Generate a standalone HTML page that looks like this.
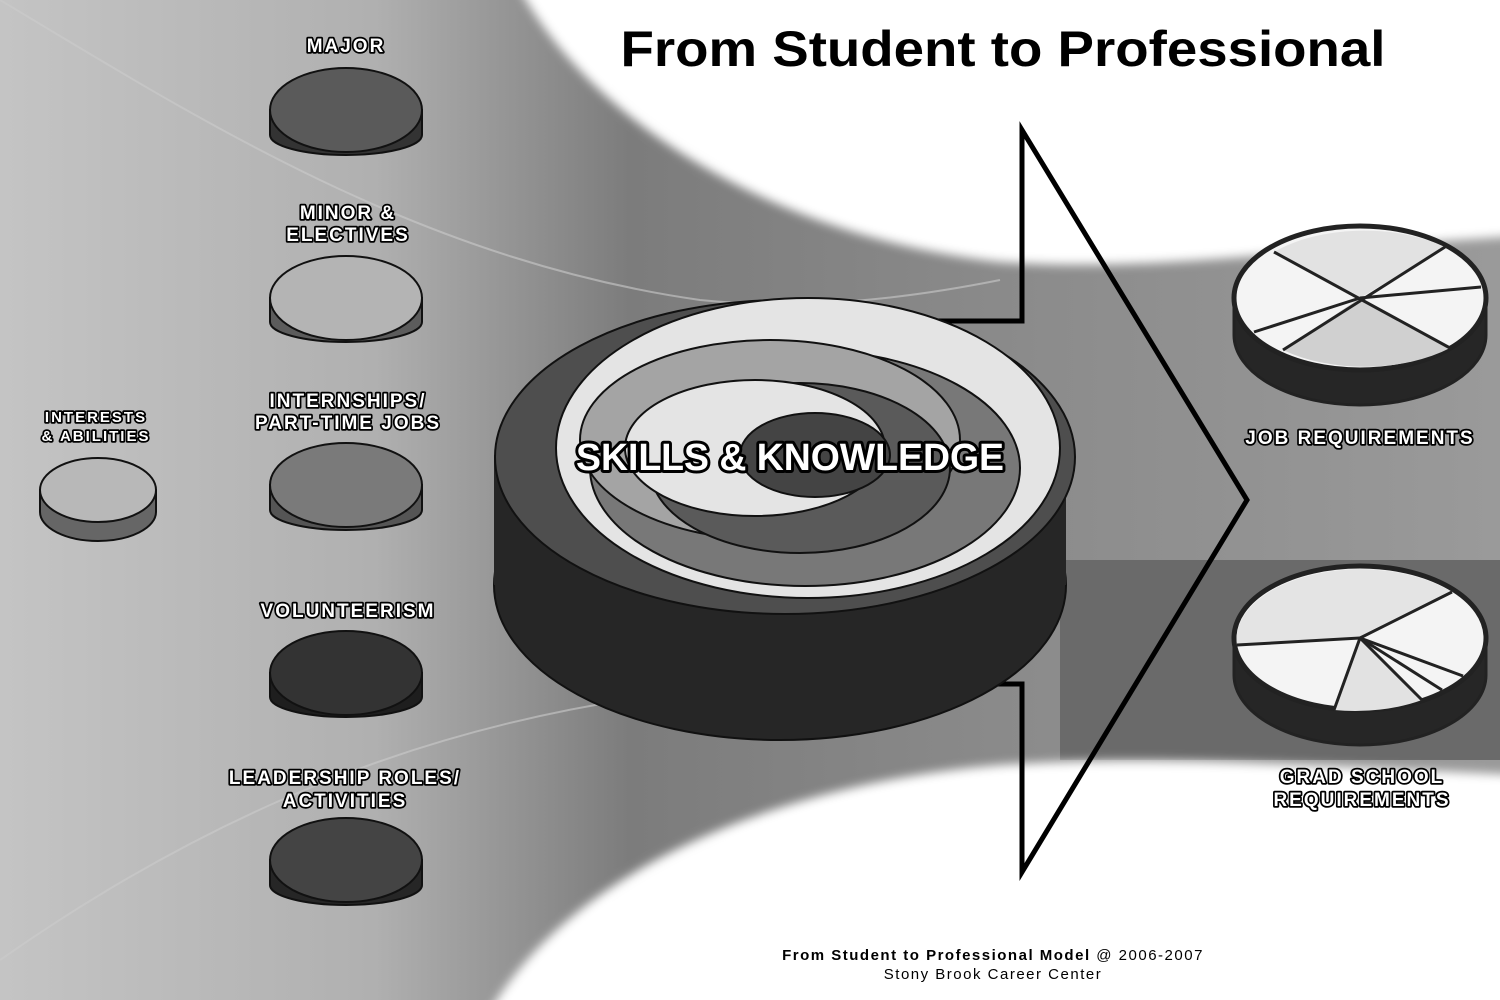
<!DOCTYPE html>
<html><head><style>
html,body{margin:0;padding:0;width:1500px;height:1000px;overflow:hidden;background:#999}
svg{display:block}
.lbl{font-family:"Liberation Sans Narrow","Liberation Sans",sans-serif;font-weight:bold;fill:#fff;stroke:#000;stroke-width:3.5px;paint-order:stroke;stroke-linejoin:round;text-anchor:middle}
</style></head><body>
<svg width="1500" height="1000" viewBox="0 0 1500 1000" xmlns="http://www.w3.org/2000/svg">
<defs>
<linearGradient id="bg" x1="0" x2="1" y1="0" y2="0">
<stop offset="0" stop-color="#c4c4c4"/><stop offset="0.25" stop-color="#b0b0b0"/><stop offset="0.42" stop-color="#7c7c7c"/><stop offset="0.7" stop-color="#8c8c8c"/><stop offset="1" stop-color="#9a9a9a"/>
</linearGradient>
<filter id="bl" x="-20%" y="-20%" width="140%" height="140%"><feGaussianBlur stdDeviation="5"/></filter>
</defs>
<rect width="1500" height="1000" fill="url(#bg)"/>
<rect x="1060" y="560" width="440" height="200" fill="#6a6a6a"/>
<path d="M0,0 C200,120 420,260 700,300 C800,310 900,300 1000,280" fill="none" stroke="#ccc" stroke-width="2" opacity="0.6"/>
<path d="M0,960 C200,820 420,720 700,690" fill="none" stroke="#ccc" stroke-width="2" opacity="0.6"/>
<path d="M515,-20 C580,110 760,235 1000,262 C1150,272 1260,252 1520,236 L1520,-20 Z" fill="#fff" filter="url(#bl)"/>
<path d="M485,1020 C560,880 760,785 1000,765 C1150,755 1300,765 1520,775 L1520,1020 Z" fill="#fff" filter="url(#bl)"/>

<text x="1003" y="66" font-family="Liberation Sans,sans-serif" font-weight="bold" font-size="50" textLength="765" lengthAdjust="spacingAndGlyphs" text-anchor="middle" fill="#000">From Student to Professional</text>

<!-- arrow -->
<polygon points="900,321 1022,321 1022,130 1247,500 1022,872 1022,684 900,684" fill="none" stroke="#000" stroke-width="5" stroke-linejoin="miter"/>

<!-- big disc -->
<ellipse cx="780" cy="585" rx="286" ry="155" fill="#262626" stroke="#111" stroke-width="2"/>
<rect x="494" y="455" width="572" height="130" fill="#262626"/>
<ellipse cx="785" cy="457" rx="290" ry="157" fill="#4e4e4e" stroke="#111" stroke-width="2"/>
<ellipse cx="808" cy="448" rx="252" ry="150" fill="#e4e4e4" stroke="#111" stroke-width="2"/>
<ellipse cx="805" cy="468" rx="215" ry="118" fill="#787878" stroke="#111" stroke-width="2"/>
<ellipse cx="770" cy="440" rx="190" ry="100" fill="#a4a4a4" stroke="#111" stroke-width="2"/>
<ellipse cx="800" cy="468" rx="150" ry="85" fill="#5a5a5a" stroke="#111" stroke-width="2"/>
<ellipse cx="755" cy="448" rx="130" ry="68" fill="#e4e4e4" stroke="#111" stroke-width="2"/>
<ellipse cx="815" cy="455" rx="75" ry="42" fill="#444" stroke="#111" stroke-width="2"/>
<text class="lbl" x="790" y="470" font-size="38" textLength="428" lengthAdjust="spacingAndGlyphs" style="stroke-width:6px">SKILLS &amp; KNOWLEDGE</text>

<!-- left discs -->
<g stroke="#111" stroke-width="2">
<path d="M270,110 L270,135 A76,20 0 0 0 422,135 L422,110 Z" fill="#333"/><ellipse cx="346" cy="110" rx="76" ry="42" fill="#5a5a5a"/>
<path d="M270,298 L270,322 A76,20 0 0 0 422,322 L422,298 Z" fill="#5c5c5c"/><ellipse cx="346" cy="298" rx="76" ry="42" fill="#b4b4b4"/>
<path d="M270,485 L270,510 A76,20 0 0 0 422,510 L422,485 Z" fill="#555"/><ellipse cx="346" cy="485" rx="76" ry="42" fill="#7a7a7a"/>
<path d="M270,673 L270,697 A76,20 0 0 0 422,697 L422,673 Z" fill="#1e1e1e"/><ellipse cx="346" cy="673" rx="76" ry="42" fill="#333"/>
<path d="M270,860 L270,885 A76,20 0 0 0 422,885 L422,860 Z" fill="#262626"/><ellipse cx="346" cy="860" rx="76" ry="42" fill="#444"/>
<path d="M40,490 L40,512 A58,29 0 0 0 156,512 L156,490 Z" fill="#666"/><ellipse cx="98" cy="490" rx="58" ry="32" fill="#b8b8b8"/>
</g>
<g class="lbl" font-size="19" letter-spacing="2">
<text x="346" y="52">MAJOR</text>
<text x="348" y="219">MINOR &amp;</text><text x="348" y="241">ELECTIVES</text>
<text x="348" y="407">INTERNSHIPS/</text><text x="348" y="429">PART-TIME JOBS</text>
<text x="348" y="617">VOLUNTEERISM</text>
<text x="345" y="784">LEADERSHIP ROLES/</text><text x="345" y="807">ACTIVITIES</text>
<text x="96" y="422" font-size="15">INTERESTS</text><text x="96" y="441" font-size="15">&amp; ABILITIES</text>
<text x="1360" y="444" font-size="19">JOB REQUIREMENTS</text>
<text x="1362" y="783">GRAD SCHOOL</text><text x="1362" y="806">REQUIREMENTS</text>
</g>

<!-- right pies -->
<g stroke="#222" stroke-width="3">
<path d="M1234,300 L1234,335 A126,70 0 0 0 1486,335 L1486,300 Z" fill="#262626"/>
<ellipse cx="1360" cy="298" rx="126" ry="72" fill="#f4f4f4" stroke-width="5"/>
<path d="M1360,298 L1274,252 A124,68 0 0 1 1445,247 Z" fill="#e2e2e2" stroke="none"/>
<path d="M1360,298 L1283,350 A124,68 0 0 0 1450,348 Z" fill="#d0d0d0" stroke="none"/>
<line x1="1274" y1="252" x2="1450" y2="348"/><line x1="1445" y1="247" x2="1283" y2="350"/>
<line x1="1360" y1="298" x2="1481" y2="287"/><line x1="1360" y1="298" x2="1254" y2="332"/>
<path d="M1234,640 L1234,675 A126,70 0 0 0 1486,675 L1486,640 Z" fill="#262626"/>
<ellipse cx="1360" cy="638" rx="126" ry="72" fill="#f4f4f4" stroke-width="5"/>
<path d="M1360,638 L1237,645 A124,70 0 0 1 1452,592 Z" fill="#e4e4e4" stroke="none"/>
<path d="M1360,638 L1334,710 A124,70 0 0 0 1422,700 Z" fill="#e2e2e2" stroke="none"/>
<line x1="1360" y1="638" x2="1237" y2="645"/><line x1="1360" y1="638" x2="1452" y2="592"/>
<line x1="1360" y1="638" x2="1334" y2="710"/><line x1="1360" y1="638" x2="1422" y2="700"/>
<line x1="1360" y1="638" x2="1442" y2="690"/><line x1="1360" y1="638" x2="1463" y2="676"/>
</g>

<text x="993" y="960" font-family="Liberation Sans,sans-serif" font-size="15" letter-spacing="1.5" text-anchor="middle" fill="#000"><tspan font-weight="bold">From Student to Professional Model</tspan> @ 2006-2007</text>
<text x="993" y="979" font-family="Liberation Sans,sans-serif" font-size="15" letter-spacing="1.5" text-anchor="middle" fill="#000">Stony Brook Career Center</text>
</svg>
</body></html>
